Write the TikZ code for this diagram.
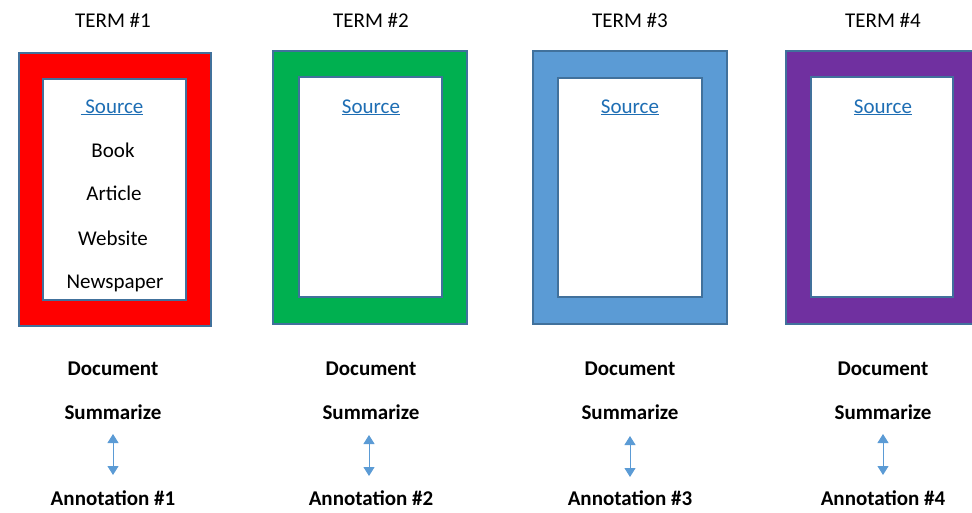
\documentclass[tikz,border=0pt]{standalone}
\usepackage{fontspec}
\setmainfont{Carlito}
\usetikzlibrary{arrows.meta}
\definecolor{edgeblue}{RGB}{65,113,156}
\definecolor{redfill}{RGB}{255,0,0}
\definecolor{greenfill}{RGB}{0,176,80}
\definecolor{bluefill}{RGB}{91,155,213}
\definecolor{purplefill}{RGB}{112,48,160}
\definecolor{linkblue}{RGB}{30,110,180}
\definecolor{arrowblue}{RGB}{91,155,213}
\tikzset{
  outerbox/.style={draw=edgeblue, line width=1.2pt},
  innerbox/.style={draw=edgeblue, fill=white, line width=1.2pt},
  txt/.style={anchor=base, inner sep=0pt, font=\fontsize{21}{24}\selectfont},
  btxt/.style={txt, font=\fontsize{21}{24}\selectfont\bfseries},
  link/.style={txt, text=linkblue},
  dbl/.style={arrowblue, line width=1pt, {Triangle[width=11pt,length=9pt]}-{Triangle[width=11pt,length=9pt]}}
}
\begin{document}
\begin{tikzpicture}[x=1pt,y=-1pt]
\useasboundingbox (0,0) rectangle (972,512);
% boxes
\path[outerbox, fill=redfill] (19,53) rectangle (211,326);
\path[innerbox] (43,79) rectangle (186,300);
\path[outerbox, fill=greenfill] (273,51) rectangle (467,324);
\path[innerbox] (299,77) rectangle (442,297);
\path[outerbox, fill=bluefill] (533,51) rectangle (727,324);
\path[innerbox] (558,78) rectangle (702,297);
\path[outerbox, fill=purplefill] (786,51) rectangle (978,324);
\path[innerbox] (811,77) rectangle (953,297);
% titles
\node[txt] (t1) at (113,27) {TERM \#1};
\node[txt] (t2) at (371,27) {TERM \#2};
\node[txt] (t3) at (630,27) {TERM \#3};
\node[txt] (t4) at (883,27) {TERM \#4};
% sources
\node[link] (s1) at (112,113) {\underline{\ Source}};
\node[link] (s2) at (371,113) {\underline{Source}};
\node[link] (s3) at (630,113) {\underline{Source}};
\node[link] (s4) at (883,113) {\underline{Source}};
\node[txt] (book) at (113,157) {Book};
\node[txt] (article) at (114,200) {Article};
\node[txt] (website) at (113,245) {Website};
\node[txt] (newspaper) at (115,288) {Newspaper};
% bottom texts
\foreach \i/\x in {1/113,2/371,3/630,4/883}{
  \node[btxt] (doc\i) at (\x,375) {Document};
  \node[btxt] (sum\i) at (\x,419) {Summarize};
  \node[btxt] (ann\i) at (\x,505) {Annotation \#\i};
}
% arrows
\coordinate (a1t) at (113,434); \coordinate (a1b) at (113,475);
\coordinate (a2t) at (369,435); \coordinate (a2b) at (369,476);
\coordinate (a3t) at (630,436); \coordinate (a3b) at (630,477);
\coordinate (a4t) at (883,434); \coordinate (a4b) at (883,475);
\draw[dbl] (a1t) -- (a1b);
\draw[dbl] (a2t) -- (a2b);
\draw[dbl] (a3t) -- (a3b);
\draw[dbl] (a4t) -- (a4b);
\end{tikzpicture}
\end{document}
